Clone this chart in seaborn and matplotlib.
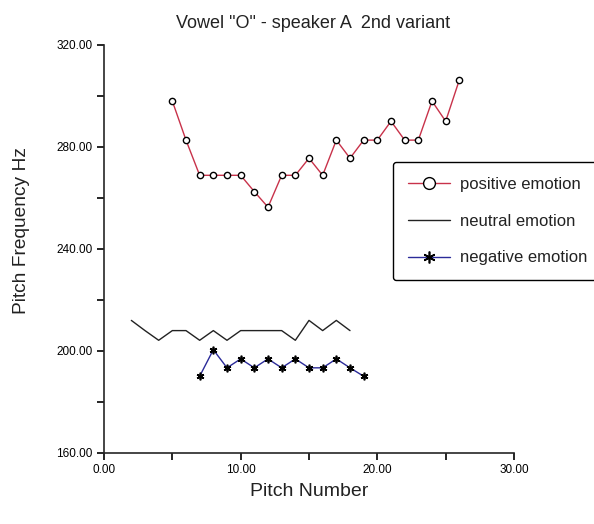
# Libraries
import pandas as pd
import seaborn as sns
import matplotlib.pyplot as plt
from matplotlib.ticker import MultipleLocator, FuncFormatter

# Data
pos_x = [5, 6, 7, 8, 9, 10, 11, 12, 13, 14, 15, 16, 17, 18, 19, 20, 21, 22, 23, 24, 25, 26]
pos_y = [298.0, 282.7, 268.9, 268.9, 268.9, 268.9, 262.5, 256.4, 268.9, 268.9, 275.6,
         268.9, 282.7, 275.6, 282.7, 282.7, 290.1, 282.7, 282.7, 298.0, 290.1, 306.3]

neu_x = [2, 3, 4, 5, 6, 7, 8, 9, 10, 11, 12, 13, 14, 15, 16, 17, 18]
neu_y = [212.0, 208.0, 204.2, 208.0, 208.0, 204.2, 208.0, 204.2, 208.0, 208.0, 208.0,
         208.0, 204.2, 212.0, 208.0, 212.0, 208.0]

neg_x = [7, 8, 9, 10, 11, 12, 13, 14, 15, 16, 17, 18, 19]
neg_y = [190.1, 200.5, 193.4, 196.9, 193.4, 196.9, 193.4, 196.9, 193.4, 193.4, 196.9, 193.4, 190.1]

labels = ["positive emotion", "neutral emotion", "negative emotion"]

pos = pd.DataFrame({"x": pos_x, "y": pos_y})
neu = pd.DataFrame({"x": neu_x, "y": neu_y})
neg = pd.DataFrame({"x": neg_x, "y": neg_y})

sns.set_style("ticks")
plt.rcParams['font.family'] = ['Liberation Sans', 'DejaVu Sans']

fig = plt.figure(figsize=(5.94, 5.24), dpi=100)
ax = fig.add_axes([104/594, 1-453/524, 410/594, 408/524])

## Lines
sns.lineplot(data=pos, x="x", y="y", ax=ax, color="#c8324a", lw=1,
             marker="o", markersize=4.5, markerfacecolor="white",
             markeredgecolor="black", markeredgewidth=1, label=labels[0])
sns.lineplot(data=neu, x="x", y="y", ax=ax, color="#222222", lw=1, label=labels[1])
sns.lineplot(data=neg, x="x", y="y", ax=ax, color="#2b2b99", lw=1,
             marker=(6, 2, 0), markersize=5.5, markeredgecolor="black",
             markeredgewidth=1.2, label=labels[2])

## Axes
ax.set_xlim(0, 30)
ax.set_ylim(160, 320)
sns.despine(ax=ax)
ax.spines['left'].set_linewidth(1.2)
ax.spines['bottom'].set_linewidth(1.2)
ax.xaxis.set_major_locator(MultipleLocator(5))
ax.yaxis.set_major_locator(MultipleLocator(20))
fmt_x = FuncFormatter(lambda v, p: f"{v:.2f}" if v % 10 == 0 else "")
fmt_y = FuncFormatter(lambda v, p: f"{v:.2f}" if v % 40 == 0 else "")
ax.xaxis.set_major_formatter(fmt_x)
ax.yaxis.set_major_formatter(fmt_y)
ax.tick_params(direction="out", length=5, width=1.2, labelsize=8.5, pad=3, colors="black")
ax.set_xlabel("")
ax.set_ylabel("")

## Texts
fig.text(313/594, 1-23/524, 'Vowel "O" - speaker A  2nd variant', ha="center", va="center",
         fontsize=13, color="#222222")
fig.text(22/594, 1-230/524, "Pitch Frequency Hz", rotation=90, ha="center", va="center",
         fontsize=13.8, color="#222222")
fig.text(309/594, 1-492/524, "Pitch Number", ha="center", va="center",
         fontsize=14, color="#222222")

## Legend
leg = ax.legend(loc="upper left", bbox_to_anchor=(393/594, 1-162/524),
                bbox_transform=fig.transFigure, fontsize=12, frameon=True,
                fancybox=True, edgecolor="black", framealpha=1,
                handlelength=2.5, labelspacing=1.3, borderpad=0.9, handletextpad=0.6,
                borderaxespad=0)
leg.get_frame().set_linewidth(1)
for t in leg.get_texts():
    t.set_color("#222222")
for h in leg.legend_handles:
    h.set_markersize(8.5)

## Save
fig.savefig("out.png", dpi=100)
